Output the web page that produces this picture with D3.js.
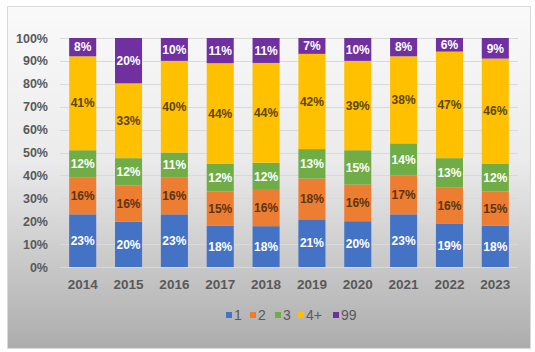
<!DOCTYPE html>
<html>
<head>
<meta charset="utf-8">
<script src="https://cdn.jsdelivr.net/npm/d3@7"></script>
<style>
  body { margin: 0; background: #fff; }
  svg { display: block; }
</style>
</head>
<body>
<div class="box"></div>
<script>
// DATA
const years = ['2014', '2015', '2016', '2017', '2018', '2019', '2020', '2021', '2022', '2023'];
const seriesNames = ['1', '2', '3', '4+', '99'];
const s1 = [23, 20, 23, 18, 18, 21, 20, 23, 19, 18];
const s2 = [16, 16, 16, 15, 16, 18, 16, 17, 16, 15];
const s3 = [12, 12, 11, 12, 12, 13, 15, 14, 13, 12];
const s4 = [41, 33, 40, 44, 44, 42, 39, 38, 47, 46];
const s99 = [8, 20, 10, 11, 11, 7, 10, 8, 6, 9];
const yTicks = [0, 0.1, 0.2, 0.3, 0.4, 0.5, 0.6, 0.7, 0.8, 0.9, 1];

const colors = ['#4472C4', '#ED7D31', '#70AD47', '#FFC000', '#7030A0'];
const labelColors = ['#ffffff', '#5a3512', '#ffffff', '#5c4700', '#ffffff'];

// build rows for the stack (percentages normalised to 100%)
const rows = years.map((y, i) => {
  const r = { year: y };
  [s1, s2, s3, s4, s99].forEach((s, k) => { r[seriesNames[k]] = s[i]; });
  return r;
});

// SETUP
const W = 535, H = 352;
const svg = d3.select('.box')
              .append('svg')
              .attr('width', W)
              .attr('height', H);

// background gradient like the excel chart area
const defs = svg.append('defs');
const grad = defs.append('linearGradient')
                 .attr('id', 'bg')
                 .attr('x1', 0).attr('y1', 0).attr('x2', 0).attr('y2', 1);
grad.append('stop').attr('offset', '0%').attr('stop-color', '#fafafb');
grad.append('stop').attr('offset', '45%').attr('stop-color', '#ebebeb');
grad.append('stop').attr('offset', '100%').attr('stop-color', '#acacac');

svg.append('rect')
   .attr('x', 7.5).attr('y', 6.5)
   .attr('width', 523).attr('height', 342)
   .attr('fill', 'url(#bg)')
   .attr('stroke', '#d9d9d9')
   .attr('stroke-width', 1);

const plot = { left: 60, right: 518, top: 38, bottom: 267 };

const x = d3.scaleBand()
            .domain(years)
            .range([plot.left, plot.right])
            .paddingInner(0.41)
            .paddingOuter(0.2);

const y = d3.scaleLinear()
            .domain([0, 1])
            .range([plot.bottom, plot.top]);

// gridlines
svg.append('g')
   .selectAll('line')
   .data(yTicks)
   .join('line')
   .attr('x1', plot.left).attr('x2', plot.right)
   .attr('y1', d => Math.round(y(d)) + 0.5)
   .attr('y2', d => Math.round(y(d)) + 0.5)
   .attr('stroke', '#d9d9d9');

// y axis
const axeY = d3.axisLeft(y)
               .tickValues(yTicks)
               .tickFormat(d3.format('.0%'))
               .tickSize(0)
               .tickPadding(12);
const gY = svg.append('g')
              .attr('transform', `translate(${plot.left}, 0)`)
              .call(axeY);
gY.select('.domain').remove();
gY.selectAll('text')
  .attr('fill', '#595959')
  .style('font', 'bold 12.5px "Liberation Sans", Arial, sans-serif');

// x axis
const axeX = d3.axisBottom(x).tickSize(0).tickPadding(12);
const gX = svg.append('g')
              .attr('transform', `translate(0, ${plot.bottom})`)
              .call(axeX);
gX.select('.domain').remove();
gX.selectAll('text')
  .attr('fill', '#595959')
  .style('font', 'bold 13.5px "Liberation Sans", Arial, sans-serif');

// stacked bars
const stack = d3.stack().keys(seriesNames).offset(d3.stackOffsetExpand);
const layers = stack(rows);

const groups = svg.append('g')
                  .selectAll('g')
                  .data(layers)
                  .join('g')
                  .attr('fill', (d, i) => colors[i]);

groups.selectAll('rect')
      .data(d => d)
      .join('rect')
      .attr('x', d => x(d.data.year))
      .attr('width', x.bandwidth())
      .attr('y', d => y(d[1]))
      .attr('height', d => y(d[0]) - y(d[1]));

// data labels
layers.forEach((layer, i) => {
  svg.append('g')
     .selectAll('text')
     .data(layer)
     .join('text')
     .attr('x', d => x(d.data.year) + x.bandwidth() / 2)
     .attr('y', d => (y(d[0]) + y(d[1])) / 2)
     .attr('dy', '0.35em')
     .attr('text-anchor', 'middle')
     .attr('fill', labelColors[i])
     .style('font', 'bold 12px "Liberation Sans Narrow", "Arial Narrow", sans-serif')
     .text(d => d.data[layer.key] + '%');
});

// legend
const legendX = [226, 250, 275, 298, 333];
const legend = svg.append('g')
                  .selectAll('g')
                  .data(seriesNames)
                  .join('g')
                  .attr('transform', (d, i) => `translate(${legendX[i]}, 315)`);
legend.append('rect')
      .attr('x', 0).attr('y', -3)
      .attr('width', 6).attr('height', 6)
      .attr('fill', (d, i) => colors[i]);
legend.append('text')
      .attr('x', 8).attr('dy', '0.35em')
      .attr('fill', '#595959')
      .style('font', '14px "Liberation Sans", Arial, sans-serif')
      .text(d => d);
</script>
</body>
</html>
